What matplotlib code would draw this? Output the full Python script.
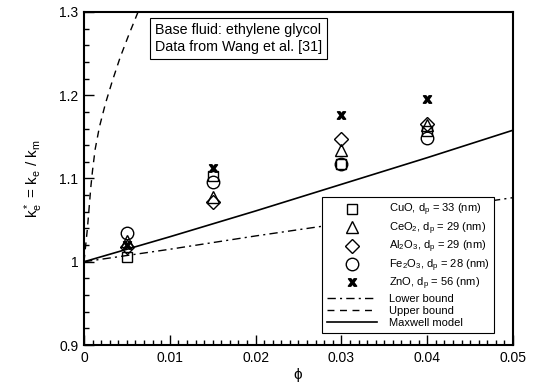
import matplotlib.pyplot as plt
from matplotlib.ticker import MultipleLocator

plt.rcParams['font.family'] = ['Liberation Sans', 'DejaVu Sans']
plt.rcParams['mathtext.default'] = 'regular'

phi = [0.005, 0.015, 0.03, 0.04]

# measured k_e/k_m, ethylene glycol base fluid (Wang et al.)
cuo = [1.006, 1.103, 1.118, 1.157]
ceo2 = [1.025, 1.078, 1.134, 1.164]
al2o3 = [1.018, 1.072, 1.148, 1.165]
fe2o3 = [1.034, 1.096, 1.117, 1.149]
zno = [1.020, 1.113, 1.176, 1.195]

# model curves
bound_phi = [0.0, 0.01, 0.02, 0.03, 0.04, 0.05]
lower_k = [1.0, 1.015, 1.031, 1.046, 1.062, 1.077]
maxwell_k = [1.0, 1.030, 1.061, 1.093, 1.125, 1.158]
upper_phi = [0.0, 0.0002, 0.0004, 0.0006, 0.0008, 0.001, 0.0013, 0.0018,
             0.0025, 0.0033, 0.0042, 0.0052, 0.0063, 0.0068]
upper_k = [1.0, 1.02, 1.04, 1.065, 1.09, 1.11, 1.135, 1.162,
           1.19, 1.217, 1.245, 1.272, 1.30, 1.31]

x_ticks = [0.0, 0.01, 0.02, 0.03, 0.04, 0.05]
x_labels = ['0', '0.01', '0.02', '0.03', '0.04', '0.05']
y_ticks = [0.9, 1.0, 1.1, 1.2, 1.3]
y_labels = ['0.9', '1', '1.1', '1.2', '1.3']

fig = plt.figure(figsize=(5.37, 3.83), dpi=100)
ax = fig.add_axes([0.1564, 0.0992, 0.7989, 0.8695])

ms = dict(color='black', linestyle='none', markerfacecolor='none',
          markeredgewidth=1.0)
ax.plot(phi, cuo, marker='s', markersize=7.5, label='CuO, d$_p$ = 33 (nm)', **ms)
ax.plot(phi, ceo2, marker='^', markersize=8, label='CeO$_2$, d$_p$ = 29 (nm)', **ms)
ax.plot(phi, al2o3, marker='D', markersize=7, label='Al$_2$O$_3$, d$_p$ = 29 (nm)', **ms)
ax.plot(phi, fe2o3, marker='o', markersize=9, label='Fe$_2$O$_3$, d$_p$ = 28 (nm)', **ms)
ax.plot(phi, zno, marker=r'$\mathbf{x}$', markersize=6, color='black',
        linestyle='none', label='ZnO, d$_p$ = 56 (nm)')

ax.plot(bound_phi, lower_k, color='black', lw=1.0, dashes=(6, 3, 1.5, 3),
        label='Lower bound')
ax.plot(upper_phi, upper_k, color='black', lw=1.0, dashes=(5, 4),
        label='Upper bound')
ax.plot(bound_phi, maxwell_k, color='black', lw=1.2, label='Maxwell model')

ax.set_xlim(0, 0.05)
ax.set_ylim(0.9, 1.3)
ax.set_xticks(x_ticks)
ax.set_xticklabels(x_labels)
ax.set_yticks(y_ticks)
ax.set_yticklabels(y_labels)
ax.xaxis.set_minor_locator(MultipleLocator(0.001))
ax.yaxis.set_minor_locator(MultipleLocator(0.02))
ax.tick_params(which='both', direction='in', top=False, right=False,
               labelsize=10, width=1.0)
ax.tick_params(which='major', length=7, pad=4)
ax.tick_params(which='minor', length=3.5)
for s in ax.spines.values():
    s.set_linewidth(1.5)

ax.set_xlabel(r'$\phi$', fontsize=11, labelpad=1)
ax.set_ylabel('k$^*_e$ = k$_e$ / k$_m$', fontsize=11, labelpad=10)

ax.text(0.0083, 1.287, 'Base fluid: ethylene glycol\nData from Wang et al. [31]',
        fontsize=10.3, va='top', ha='left', linespacing=1.3,
        bbox=dict(boxstyle='square,pad=0.35', facecolor='white',
                  edgecolor='black', linewidth=0.8))

leg = ax.legend(loc='lower right', bbox_to_anchor=(0.956, 0.036),
                borderaxespad=0, fontsize=8, handlelength=4.5,
                labelspacing=0.18, fancybox=False, edgecolor='black',
                framealpha=1, borderpad=0.45, handletextpad=1.0)
leg.get_frame().set_linewidth(0.8)

fig.savefig('out.png', dpi=100)
